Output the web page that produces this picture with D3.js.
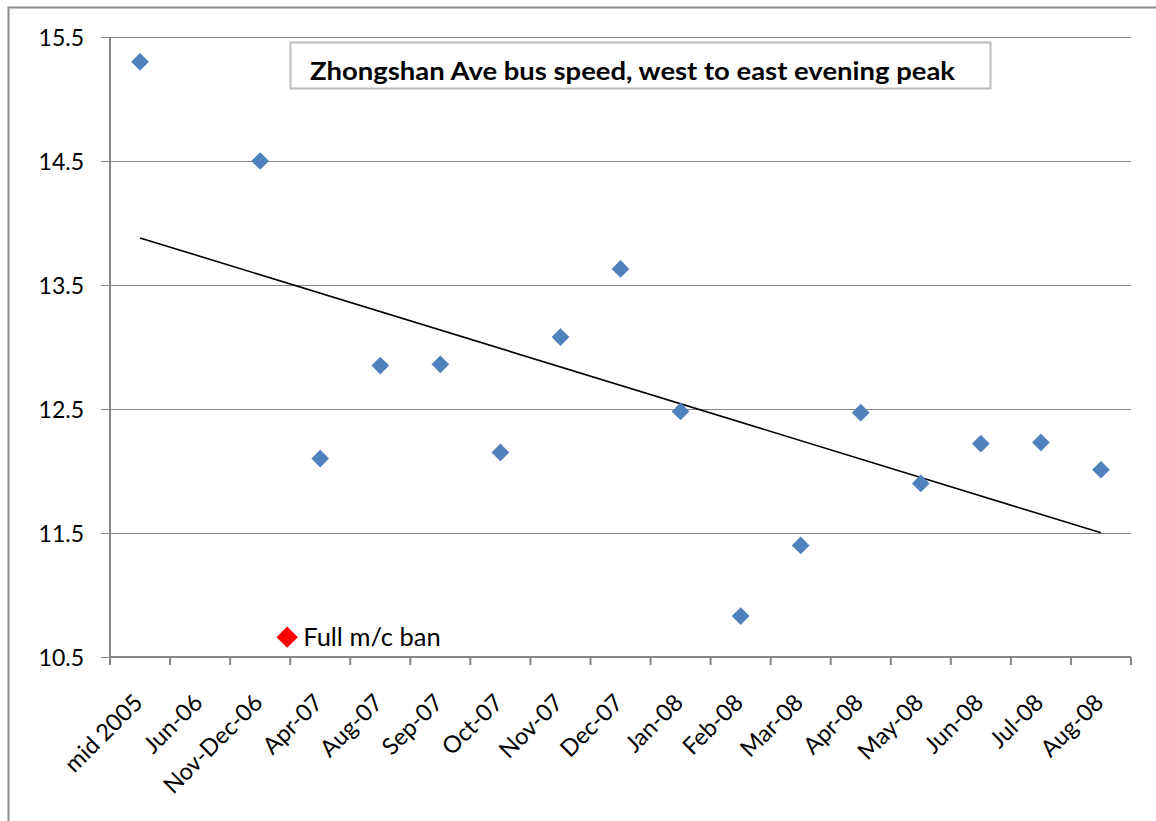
<!DOCTYPE html>
<html>
<head>
<meta charset="utf-8">
<script src="https://cdn.jsdelivr.net/npm/d3@7"></script>
<style>
  html, body { margin: 0; padding: 0; background: #fff; }
  svg { display: block; }
  text { font-family: Lato, "Open Sans", sans-serif; fill: #000; }
</style>
</head>
<body>
<svg id="chart" width="1156" height="821"></svg>
<script>
// Survey periods along the category axis
const categories = ["mid 2005", "Jun-06", "Nov-Dec-06", "Apr-07", "Aug-07", "Sep-07", "Oct-07",
  "Nov-07", "Dec-07", "Jan-08", "Feb-08", "Mar-08", "Apr-08", "May-08", "Jun-08", "Jul-08", "Aug-08"];
// Average bus speed per period (no survey for Jun-06)
const speeds = [15.30, null, 14.50, 12.10, 12.85, 12.86, 12.15,
  13.08, 13.63, 12.48, 10.83, 11.40, 12.47, 11.90, 12.22, 12.23, 12.01];
const yTicks = [10.5, 11.5, 12.5, 13.5, 14.5, 15.5];
const titleText = "Zhongshan Ave bus speed, west to east evening peak";
// Policy marker placed between Nov-Dec-06 and Apr-07
const banLabel = "Full m/c ban";
const banAfter = "Nov-Dec-06";
const banValue = 10.66;

const svg = d3.select("#chart");
const plot = { left: 110, right: 1131, top: 37, bottom: 657 };

// outer chart frame
svg.append("rect")
  .attr("x", 8.5).attr("y", 7.5)
  .attr("width", 1200).attr("height", 900)
  .attr("fill", "none").attr("stroke", "#8c8c8c").attr("stroke-width", 2);

const x = d3.scaleBand().domain(categories).range([plot.left, plot.right]);
const y = d3.scaleLinear().domain([10.5, 15.5]).range([plot.bottom, plot.top]);

// horizontal gridlines and y axis
const yAxis = d3.axisLeft(y).tickValues(yTicks).tickSize(plot.right - plot.left + 9)
  .tickPadding(18).tickFormat(d3.format(".1f"));
const gy = svg.append("g").attr("transform", `translate(${plot.right},0)`).call(yAxis);
gy.select(".domain").remove();
gy.selectAll(".tick line").attr("stroke", "#878787").attr("stroke-width", 1.2);
gy.selectAll(".tick text").attr("font-size", 23).attr("x", -(plot.right - plot.left + 9) - 17)
  .attr("dy", "0.36em");

svg.append("line")
  .attr("x1", plot.left).attr("x2", plot.left)
  .attr("y1", plot.top).attr("y2", plot.bottom)
  .attr("stroke", "#868686").attr("stroke-width", 2);

// category axis with ticks on band boundaries
const gx = svg.append("g").attr("transform", `translate(0,${plot.bottom})`);
gx.append("line").attr("x1", plot.left).attr("x2", plot.right)
  .attr("stroke", "#868686").attr("stroke-width", 2);
const bounds = categories.map(c => x(c)).concat([plot.right]);
gx.selectAll("line.tk").data(bounds).join("line").attr("class", "tk")
  .attr("x1", d => d).attr("x2", d => d).attr("y1", 0).attr("y2", 8)
  .attr("stroke", "#868686").attr("stroke-width", 2);
gx.selectAll("text").data(categories).join("text")
  .attr("font-size", 23.5)
  .attr("text-anchor", "end")
  .attr("transform", c => `translate(${x(c) + x.bandwidth() / 2 + 4},${47}) rotate(-45)`)
  .text(c => c);

// linear trend over the surveyed periods (x = category index)
const pts = speeds.map((v, i) => [i, v]).filter(p => p[1] != null);
const mx = d3.mean(pts, p => p[0]), my = d3.mean(pts, p => p[1]);
const slope = d3.sum(pts, p => (p[0] - mx) * (p[1] - my)) / d3.sum(pts, p => (p[0] - mx) ** 2);
const icpt = my - slope * mx;
const i0 = pts[0][0], i1 = pts[pts.length - 1][0];
const cx = i => x(categories[i]) + x.bandwidth() / 2;
svg.append("line")
  .attr("x1", cx(i0)).attr("y1", y(icpt + slope * i0))
  .attr("x2", cx(i1)).attr("y2", y(icpt + slope * i1))
  .attr("stroke", "#000").attr("stroke-width", 1.6);

// data markers
const diamond = d3.symbol().type(d3.symbolDiamond2).size(200);
svg.append("g").selectAll("path").data(pts).join("path")
  .attr("d", diamond)
  .attr("transform", p => `translate(${cx(p[0])},${y(p[1])})`)
  .attr("fill", "#4f81bd");

// policy marker and label
const bx = x(banAfter) + x.bandwidth() - 3;
svg.append("path").attr("d", d3.symbol().type(d3.symbolDiamond2).size(290))
  .attr("transform", `translate(${bx},${y(banValue)})`).attr("fill", "#ff0000");
svg.append("text").attr("x", bx + 16).attr("y", y(banValue) + 9)
  .attr("font-size", 25.5).text(banLabel);

// title box
svg.append("rect").attr("x", 290.5).attr("y", 42.5).attr("width", 700).attr("height", 46)
  .attr("fill", "#fff").attr("stroke", "#bdbdbd").attr("stroke-width", 2);
svg.append("text").attr("x", 310).attr("y", 80)
  .attr("font-size", 25).attr("font-weight", "bold")
  .attr("textLength", 645).attr("lengthAdjust", "spacingAndGlyphs")
  .text(titleText);
</script>
</body>
</html>
